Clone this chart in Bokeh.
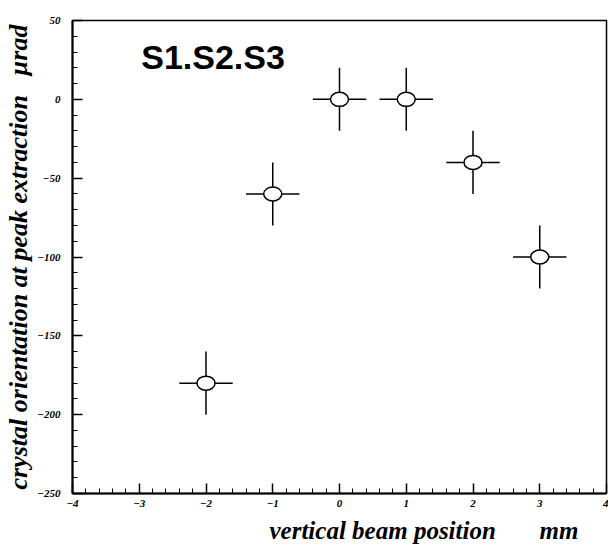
from bokeh.plotting import figure
from bokeh.models import Label, SingleIntervalTicker, Range1d, Title
from bokeh.embed import file_html
from bokeh.resources import INLINE

# data
positions = [-2, -1, 0, 1, 2, 3]          # vertical beam position, mm
orientation = [-180, -60, 0, 0, -40, -100]  # crystal orientation, urad
orient_err = [20, 20, 20, 20, 20, 20]
pos_err = [0.4, 0.4, 0.4, 0.4, 0.4, 0.4]

x_ticks_interval = 1
y_ticks_interval = 50

NB = "\u00a0"
p = figure(width=608, height=548, output_backend="svg", toolbar_location=None,
           x_range=Range1d(-4, 4), y_range=Range1d(-250, 50),
           min_border_left=72, min_border_right=2, min_border_top=20, min_border_bottom=55)
p.background_fill_color = "white"
p.border_fill_color = "white"
p.grid.visible = False
p.outline_line_color = "black"
p.outline_line_width = 1.5

serif = "Liberation Serif"
for ax in (p.xaxis[0], p.yaxis[0]):
    ax.axis_line_width = 2
    ax.axis_line_color = "black"
    ax.major_tick_in = 10
    ax.major_tick_out = 0
    ax.minor_tick_in = 5
    ax.minor_tick_out = 0
    ax.major_tick_line_width = 1.5
    ax.minor_tick_line_width = 1
    ax.major_label_text_font = serif
    ax.major_label_text_font_style = "bold italic"
    ax.major_label_text_font_size = "11px"
    ax.major_label_text_color = "black"

p.xaxis[0].ticker = SingleIntervalTicker(interval=x_ticks_interval, num_minor_ticks=5)
p.yaxis[0].ticker = SingleIntervalTicker(interval=y_ticks_interval, num_minor_ticks=5)
p.xaxis[0].major_label_standoff = 6
p.yaxis[0].major_label_standoff = 12

yax = p.yaxis[0]
yax.axis_label = "crystal orientation at peak extraction" + NB * 3 + "\u00b5rad"
yax.axis_label_text_font = serif
yax.axis_label_text_font_style = "bold italic"
yax.axis_label_text_font_size = "26px"
yax.axis_label_text_color = "black"
yax.axis_label_standoff = 1

p.add_layout(Title(text="vertical beam position" + NB * 7 + "mm", align="right", offset=28,
                   text_font=serif, text_font_style="bold italic",
                   text_font_size="25px", text_color="black"), "below")

# error bars
x0 = [x - e for x, e in zip(positions, pos_err)]
x1 = [x + e for x, e in zip(positions, pos_err)]
y0 = [y - e for y, e in zip(orientation, orient_err)]
y1 = [y + e for y, e in zip(orientation, orient_err)]
p.segment(x0=x0, y0=orientation, x1=x1, y1=orientation, line_color="black", line_width=1.5)
p.segment(x0=positions, y0=y0, x1=positions, y1=y1, line_color="black", line_width=1.5)
p.ellipse(x=positions, y=orientation, width=18, height=14,
          width_units="screen", height_units="screen",
          fill_color="white", line_color="black", line_width=1.5)

p.add_layout(Label(x=-2.97, y=27, text="S1.S2.S3", text_font="Liberation Sans",
                   text_font_style="bold", text_font_size="34px", text_color="black",
                   text_baseline="alphabetic"))

open("out.html", "w").write(file_html(p, INLINE))
